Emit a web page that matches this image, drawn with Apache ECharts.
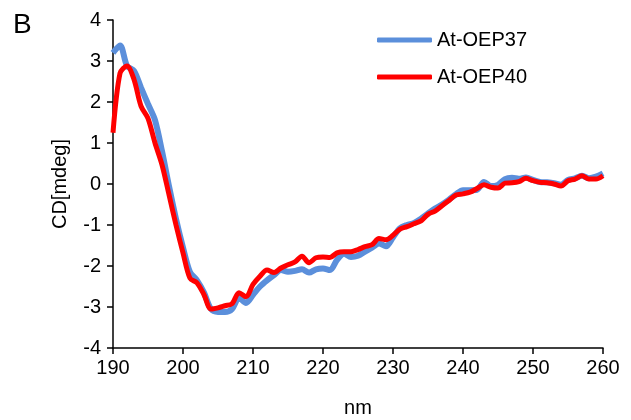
<!DOCTYPE html>
<html>
<head>
<meta charset="utf-8">
<script src="https://cdn.jsdelivr.net/npm/echarts@6/dist/echarts.min.js"></script>
<style>
html,body{margin:0;padding:0;background:#fff;}
#main{width:631px;height:420px;}
</style>
</head>
<body>
<div id="main"></div>
<script>
// 波长 nm
var nm = [190,191,192,193,194,195,196,197,198,199,
          200,201,202,203,204,205,206,207,208,209,
          210,211,212,213,214,215,216,217,218,219,
          220,221,222,223,224,225,226,227,228,229,
          230,231,232,233,234,235,236,237,238,239,
          240,241,242,243,244,245,246,247,248,249,
          250,251,252,253,254,255,256,257,258,259,260];
// At-OEP37
var oep37 = [3.2,3.38,2.88,2.76,2.35,1.95,1.56,0.8,-0.05,-0.85,
             -1.55,-2.15,-2.35,-2.65,-3.05,-3.12,-3.12,-3.05,-2.78,-2.9,
             -2.7,-2.5,-2.35,-2.22,-2.1,-2.14,-2.12,-2.08,-2.16,-2.08,
             -2.06,-2.1,-1.85,-1.7,-1.78,-1.75,-1.65,-1.55,-1.45,-1.52,
             -1.3,-1.08,-1.0,-0.95,-0.85,-0.72,-0.6,-0.5,-0.38,-0.25,
             -0.15,-0.15,-0.14,0.05,-0.05,-0.02,0.12,0.15,0.13,0.16,
             0.1,0.05,0.04,0.02,-0.02,0.1,0.14,0.2,0.14,0.18,0.26];
// At-OEP40
var oep40 = [1.25,2.7,2.88,2.55,1.9,1.6,1.0,0.47,-0.26,-1.0,
             -1.68,-2.3,-2.41,-2.7,-3.05,-3.02,-2.97,-2.92,-2.65,-2.75,
             -2.45,-2.25,-2.1,-2.16,-2.05,-1.97,-1.9,-1.76,-1.92,-1.8,
             -1.78,-1.79,-1.68,-1.65,-1.65,-1.6,-1.53,-1.48,-1.33,-1.36,
             -1.25,-1.1,-1.04,-0.97,-0.9,-0.74,-0.66,-0.53,-0.4,-0.27,
             -0.24,-0.2,-0.11,-0.02,-0.08,-0.1,0.02,0.03,0.06,0.14,
             0.08,0.04,0.03,0.0,-0.05,0.08,0.12,0.2,0.12,0.12,0.2];

function pairs(xs, ys){
	var out = [];
	for (var i = 0; i < xs.length; i++) out.push([xs[i], ys[i]]);
	return out;
}

var font = 'Liberation Sans, Arial, sans-serif';
var chart = echarts.init(document.getElementById('main'));
var option = {
	animation: false,
	title: {
		text: 'B',
		left: 8,
		top: 6,
		textStyle: {fontFamily: font, fontSize: 28, fontWeight: 'normal', color: '#000'}
	},
	legend: {
		orient: 'vertical',
		left: 372,
		top: 25,
		itemWidth: 55,
		itemHeight: 5,
		itemGap: 17,
		icon: 'roundRect',
		selectedMode: false,
		textStyle: {fontFamily: font, fontSize: 20, color: '#000'},
		data: ['At-OEP37', 'At-OEP40']
	},
	grid: {left: 113, right: 28, top: 20, bottom: 72, containLabel: false, outerBoundsMode: 'none'},
	xAxis: {
		type: 'value',
		min: 190, max: 260, interval: 10,
		name: 'nm',
		nameLocation: 'middle',
		nameGap: 50,
		nameTextStyle: {fontFamily: font, fontSize: 20, color: '#000'},
		axisLine: {onZero: false, lineStyle: {color: '#000', width: 1.5}},
		axisTick: {show: true, inside: false, length: 6, lineStyle: {color: '#000', width: 1.5}},
		axisLabel: {margin: 10, fontFamily: font, fontSize: 20, color: '#000'},
		splitLine: {show: false}
	},
	yAxis: {
		type: 'value',
		min: -4, max: 4, interval: 1,
		name: 'CD[mdeg]',
		nameLocation: 'middle',
		nameGap: 43,
		nameTextStyle: {fontFamily: font, fontSize: 20, color: '#000'},
		axisLine: {show: true, lineStyle: {color: '#000', width: 1.5}},
		axisTick: {show: true, inside: false, length: 6, lineStyle: {color: '#000', width: 1.5}},
		axisLabel: {margin: 12, fontFamily: font, fontSize: 20, color: '#000'},
		splitLine: {show: false}
	},
	series: [{
		name: 'At-OEP37',
		type: 'line',
		data: pairs(nm, oep37),
		smooth: 0.3,
		showSymbol: false,
		symbol: 'none',
		itemStyle: {color: '#5B8FDB'},
		lineStyle: {color: '#5B8FDB', width: 6}
	}, {
		name: 'At-OEP40',
		type: 'line',
		data: pairs(nm, oep40),
		smooth: 0.3,
		showSymbol: false,
		symbol: 'none',
		itemStyle: {color: '#FF0000'},
		lineStyle: {color: '#FF0000', width: 5}
	}]
};
chart.setOption(option);
</script>
</body>
</html>
